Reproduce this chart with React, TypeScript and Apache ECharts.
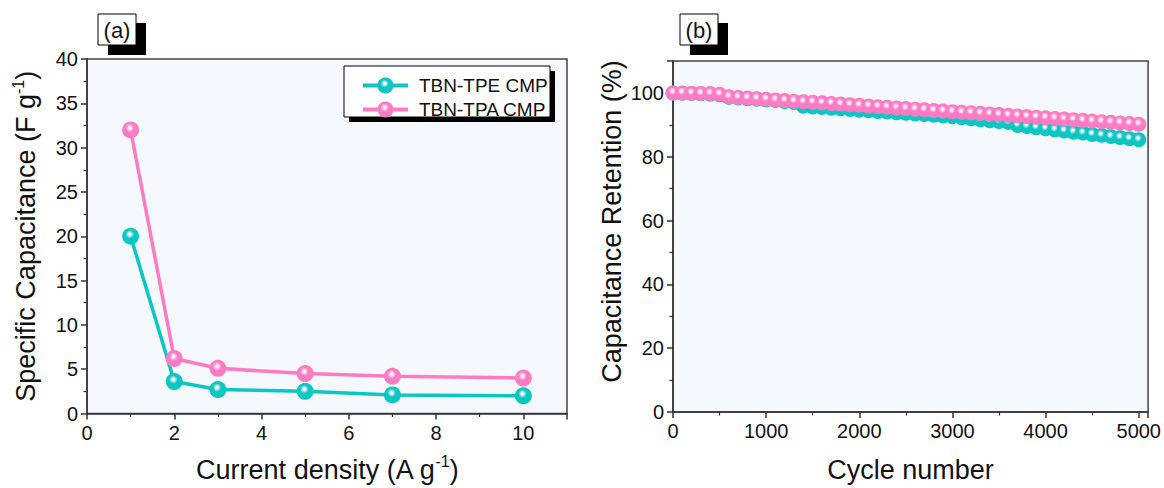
import React, { useEffect, useRef } from "react";
import * as echarts from "echarts";

const rateX = [1, 2, 3, 5, 7, 10];
const tpeCap = [20.0, 3.6, 2.7, 2.5, 2.1, 2.0];
const tpaCap = [32.0, 6.2, 5.1, 4.5, 4.2, 4.0];

const cycles = [
  0, 100, 200, 300, 400, 500, 600, 700, 800, 900, 1000, 1100, 1200, 1300, 1400, 1500, 1600, 1700,
  1800, 1900, 2000, 2100, 2200, 2300, 2400, 2500, 2600, 2700, 2800, 2900, 3000, 3100, 3200, 3300,
  3400, 3500, 3600, 3700, 3800, 3900, 4000, 4100, 4200, 4300, 4400, 4500, 4600, 4700, 4800, 4900,
  5000,
];
const tpeRet = [
  100.0, 99.9, 99.8, 99.7, 99.6, 99.4, 98.6, 98.4, 98.2, 98.0, 97.8, 97.6, 97.3, 97.0, 95.8, 95.6,
  95.4, 95.2, 95.0, 94.8, 94.6, 94.4, 94.2, 94.0, 93.8, 93.6, 93.4, 93.2, 93.0, 92.8, 92.5, 92.2,
  91.9, 91.6, 91.3, 91.0, 90.7, 89.8, 89.5, 89.1, 88.8, 88.4, 88.1, 87.7, 87.4, 87.0, 86.7, 86.3,
  86.0, 85.6, 85.3,
];
const tpaRet = [
  100.0, 100.0, 99.9, 99.8, 99.8, 99.6, 98.8, 98.6, 98.4, 98.2, 98.0, 97.8, 97.6, 97.4, 97.2, 97.1,
  96.9, 96.7, 96.5, 96.3, 96.1, 95.9, 95.7, 95.5, 95.3, 95.1, 94.9, 94.7, 94.5, 94.3, 94.1, 93.9,
  93.8, 93.6, 93.4, 93.2, 93.0, 92.8, 92.6, 92.4, 92.2, 92.0, 91.8, 91.6, 91.4, 91.2, 91.0, 90.8,
  90.6, 90.4, 90.2,
];

const seriesNames = ["TBN-TPE CMP", "TBN-TPA CMP"];
const TEAL = "#0cc6c4";
const PINK = "#ff7cc5";
const FONT = "Liberation Sans";

function sphere(color: string) {
  return new echarts.graphic.RadialGradient(0.45, 0.38, 0.6, [
    { offset: 0, color: "#ffffff" },
    { offset: 0.1, color: "#fbf4fa" },
    { offset: 0.42, color: color },
    { offset: 1, color: color },
  ]);
}

export default function App() {
  const ref = useRef<HTMLDivElement>(null);
  useEffect(() => {
    if (!ref.current) return;
    const chart = echarts.init(ref.current, undefined, { renderer: "svg" });
    const axisLine = { show: true, lineStyle: { color: "#333", width: 1.5 } };
    const tick = { show: true, inside: false, length: 6, lineStyle: { color: "#333", width: 1.5 } };
    const minor = { show: true, splitNumber: 2, length: 3.5, lineStyle: { color: "#333", width: 1.2 } };
    const label = {
      color: "#111",
      fontSize: 20,
      fontFamily: FONT,
      margin: 9,
      formatter: (v: number) => String(v),
    };
    const TITLE = 27;
    const richName = (pad: number[]) => ({
      color: "#111",
      fontSize: TITLE,
      fontFamily: FONT,
      padding: pad,
      rich: {
        sup: { fontSize: 16, fontFamily: FONT, color: "#111", verticalAlign: "top", lineHeight: 32 },
        n: { fontSize: TITLE, fontFamily: FONT, color: "#111", lineHeight: 32 },
      },
    });
    const gridCommon = {
      show: true,
      backgroundColor: "#f5f9fe",
      borderColor: "#444",
      borderWidth: 1.5,
      containLabel: false,
    };
    const option: any = {
      animation: false,
      backgroundColor: "#ffffff",
      grid: [
        { ...gridCommon, left: 87, top: 59, width: 480, height: 365 },
        { ...gridCommon, left: 673, top: 61, width: 476, height: 359 },
      ],
      xAxis: [
        {
          gridIndex: 0,
          type: "value",
          min: 0,
          max: 11,
          interval: 2,
          axisLine,
          axisTick: tick,
          minorTick: minor,
          splitLine: { show: false },
          axisLabel: { ...label, showMaxLabel: false },
          name: "{n|Current density (A g}{sup|-1}{n|)}",
          nameLocation: "middle",
          nameGap: 40,
          nameTextStyle: richName([0, 0, 0, 0]),
        },
        {
          gridIndex: 1,
          type: "value",
          min: 0,
          max: 5100,
          interval: 1000,
          axisLine,
          axisTick: tick,
          minorTick: minor,
          splitLine: { show: false },
          axisLabel: { ...label, showMaxLabel: false },
          name: "Cycle number",
          nameLocation: "middle",
          nameGap: 44,
          nameTextStyle: { color: "#111", fontSize: TITLE, fontFamily: FONT },
        },
      ],
      yAxis: [
        {
          gridIndex: 0,
          type: "value",
          min: 0,
          max: 40,
          interval: 5,
          axisLine,
          axisTick: tick,
          minorTick: minor,
          splitLine: { show: false },
          axisLabel: label,
          name: "{n|Specific Capacitance (F g}{sup|-1}{n|)}",
          nameLocation: "middle",
          nameGap: 45,
          nameTextStyle: richName([0, 0, 0, 0]),
        },
        {
          gridIndex: 1,
          type: "value",
          min: 0,
          max: 110,
          interval: 20,
          axisLine,
          axisTick: tick,
          minorTick: minor,
          splitLine: { show: false },
          axisLabel: { ...label, showMaxLabel: false },
          name: "Capacitance Retention (%)",
          nameLocation: "middle",
          nameGap: 48,
          nameTextStyle: { color: "#111", fontSize: TITLE, fontFamily: FONT, padding: [0, 0, 0, 30] },
        },
      ],
      legend: {
        orient: "vertical",
        left: 356,
        top: 71,
        itemWidth: 45,
        itemHeight: 20,
        itemGap: 5,
        data: seriesNames,
        lineStyle: { width: 4 },
        textStyle: { fontSize: 19, fontFamily: FONT, color: "#111", padding: [0, 0, 0, 6] },
      },
      graphic: [
        { type: "rect", z: 1, shape: { x: 349, y: 71, width: 206, height: 51 }, style: { fill: "#000" } },
        {
          type: "rect",
          z: 2,
          shape: { x: 344, y: 66, width: 206, height: 51 },
          style: { fill: "#fff", stroke: "#000", lineWidth: 1 },
        },
        { type: "rect", shape: { x: 108, y: 23, width: 38, height: 32 }, style: { fill: "#000" } },
        {
          type: "rect",
          shape: { x: 98, y: 14, width: 38, height: 31 },
          style: { fill: "#fff", stroke: "#000", lineWidth: 1 },
        },
        {
          type: "text",
          x: 117,
          y: 30,
          style: { text: "(a)", fontSize: 22, fontFamily: FONT, fill: "#111", align: "center", verticalAlign: "middle" },
        },
        { type: "rect", shape: { x: 690, y: 23, width: 38, height: 32 }, style: { fill: "#000" } },
        {
          type: "rect",
          shape: { x: 680, y: 14, width: 38, height: 31 },
          style: { fill: "#fff", stroke: "#000", lineWidth: 1 },
        },
        {
          type: "text",
          x: 699,
          y: 30,
          style: { text: "(b)", fontSize: 22, fontFamily: FONT, fill: "#111", align: "center", verticalAlign: "middle" },
        },
      ],
      series: [
        {
          name: seriesNames[0],
          type: "line",
          xAxisIndex: 0,
          yAxisIndex: 0,
          data: rateX.map((x, i) => [x, tpeCap[i]]),
          symbol: "circle",
          symbolSize: 17,
          lineStyle: { color: TEAL, width: 3.5 },
          itemStyle: { color: sphere(TEAL) },
          z: 3,
        },
        {
          name: seriesNames[1],
          type: "line",
          xAxisIndex: 0,
          yAxisIndex: 0,
          data: rateX.map((x, i) => [x, tpaCap[i]]),
          symbol: "circle",
          symbolSize: 17,
          lineStyle: { color: PINK, width: 3.5 },
          itemStyle: { color: sphere(PINK) },
          z: 3,
        },
        {
          name: seriesNames[0],
          type: "line",
          xAxisIndex: 1,
          yAxisIndex: 1,
          data: cycles.map((c, i) => [c, tpeRet[i]]),
          symbol: "circle",
          symbolSize: 15,
          lineStyle: { color: TEAL, width: 2 },
          itemStyle: { color: sphere(TEAL) },
          z: 3,
        },
        {
          name: seriesNames[1],
          type: "line",
          xAxisIndex: 1,
          yAxisIndex: 1,
          data: cycles.map((c, i) => [c, tpaRet[i]]),
          symbol: "circle",
          symbolSize: 15,
          lineStyle: { color: PINK, width: 2 },
          itemStyle: { color: sphere(PINK) },
          z: 4,
        },
      ],
    };
    chart.setOption(option);
    return () => chart.dispose();
  }, []);
  return (
    <div
      ref={ref}
      style={{ position: "fixed", left: 0, top: 0, width: 1164, height: 488, background: "#fff" }}
    />
  );
}
